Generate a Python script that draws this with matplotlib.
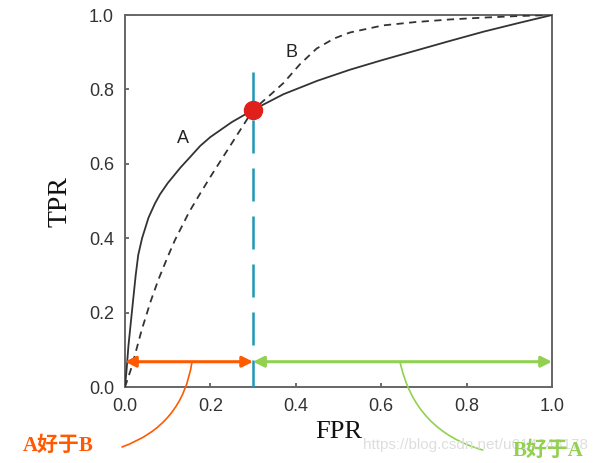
import matplotlib
matplotlib.use("Agg")
import matplotlib.pyplot as plt

# ROC curve A (solid)
fpr_a = [0.0, 0.004, 0.008, 0.016, 0.025, 0.031, 0.04, 0.055, 0.07, 0.082, 0.1, 0.13,
         0.15, 0.176, 0.2, 0.25, 0.3, 0.371, 0.45, 0.527, 0.6, 0.683, 0.76, 0.839, 0.92, 1.0]
tpr_a = [0.0, 0.05, 0.11, 0.20, 0.30, 0.355, 0.40, 0.455, 0.493, 0.518, 0.548, 0.59,
         0.615, 0.648, 0.672, 0.712, 0.745, 0.787, 0.823, 0.853, 0.878, 0.905, 0.93, 0.955, 0.978, 1.0]

# ROC curve B (dashed)
fpr_b = [0.0, 0.016, 0.039, 0.06, 0.078, 0.1, 0.117, 0.15, 0.176, 0.2, 0.25, 0.3, 0.34,
         0.371, 0.41, 0.449, 0.49, 0.527, 0.604, 0.68, 0.761, 0.84, 0.917, 1.0]
tpr_b = [0.0, 0.055, 0.153, 0.23, 0.288, 0.35, 0.395, 0.47, 0.52, 0.565, 0.655, 0.745, 0.785,
         0.817, 0.868, 0.91, 0.937, 0.953, 0.972, 0.981, 0.988, 0.993, 0.997, 1.0]

cross_fpr = 0.3
cross_tpr = 0.745
arrow_tpr = 0.068
ticks = [0.0, 0.2, 0.4, 0.6, 0.8, 1.0]
tick_labels = ["0.0", "0.2", "0.4", "0.6", "0.8", "1.0"]

ORANGE = "#ff5a00"
GREEN = "#92d050"
TEAL = "#1f97b8"
CURVE = "#333333"

fig = plt.figure(figsize=(6.05, 4.63), dpi=100)
ax = fig.add_axes([0.2066, 0.1641, 0.7058, 0.8035])

ax.plot(fpr_a, tpr_a, color=CURVE, lw=1.3, zorder=3)
ax.plot(fpr_b, tpr_b, color=CURVE, lw=1.3, dashes=(4, 3), zorder=3)

ax.text(0.136, 0.669, "A", fontsize=13, color="#222222", family="Liberation Sans",
        ha="center", va="center")
ax.text(0.39, 0.90, "B", fontsize=13, color="#222222", family="Liberation Sans",
        ha="center", va="center")

# vertical dashed line at the crossing point
ax.plot([cross_fpr, cross_fpr], [0.847, 0.0], color=TEAL, lw=1.8,
        dashes=(13.2, 6), clip_on=False, zorder=4)
ax.plot([cross_fpr], [cross_tpr], "o", color="#e0201b", ms=13, mec="#e0201b", zorder=5)

# range arrows
ax.annotate("", xy=(0.0, arrow_tpr), xytext=(cross_fpr, arrow_tpr),
            arrowprops=dict(arrowstyle="<|-|>", color=ORANGE, lw=2.2,
                            mutation_scale=16, shrinkA=0, shrinkB=0), zorder=6)
ax.annotate("", xy=(cross_fpr, arrow_tpr), xytext=(1.0, arrow_tpr),
            arrowprops=dict(arrowstyle="<|-|>", color=GREEN, lw=2.2,
                            mutation_scale=16, shrinkA=0, shrinkB=0), zorder=6)

# connectors to the labels
ax.annotate("", xy=(0.157, arrow_tpr), xycoords="data",
            xytext=(0.2017, 0.0346), textcoords="figure fraction",
            arrowprops=dict(arrowstyle="-", color=ORANGE, lw=1.2,
                            connectionstyle="arc3,rad=0.3", shrinkA=0, shrinkB=0),
            annotation_clip=False)
ax.annotate("", xy=(0.644, arrow_tpr), xycoords="data",
            xytext=(0.798, 0.028), textcoords="figure fraction",
            arrowprops=dict(arrowstyle="-", color=GREEN, lw=1.2,
                            connectionstyle="arc3,rad=-0.3", shrinkA=0, shrinkB=0),
            annotation_clip=False)

ax.set_xlim(0, 1)
ax.set_ylim(0, 1)
ax.set_xticks(ticks)
ax.set_yticks(ticks)
ax.set_xticklabels(tick_labels, family="Liberation Sans", fontsize=13, color="#333333")
ax.set_yticklabels(tick_labels, family="Liberation Sans", fontsize=13, color="#333333")
ax.tick_params(direction="in", length=3, width=1.2, color="#555555", pad=8)
for s in ax.spines.values():
    s.set_color("#666666")
    s.set_linewidth(1.4)

ax.set_xlabel("FPR", family="Liberation Serif", fontsize=19, color="#111111", labelpad=4)
ax.set_ylabel("TPR", family="Liberation Serif", fontsize=20, color="#111111", labelpad=12)

fig.text(0.096, 0.037, "A好于B", family=["Liberation Serif", "Noto Sans CJK SC"],
         fontsize=15, fontweight="bold", color=ORANGE, ha="center", va="center")
fig.text(0.906, 0.026, "B好于A", family=["Liberation Serif", "Noto Sans CJK SC"],
         fontsize=15, fontweight="bold", color=GREEN, ha="center", va="center", zorder=3)

# faint watermark
fig.text(0.60, 0.039, "https://blog.csdn.net/u014248178", family="Liberation Sans",
         fontsize=11, color="#dedede", ha="left", va="center", zorder=0)

fig.savefig("out.png", dpi=100)
